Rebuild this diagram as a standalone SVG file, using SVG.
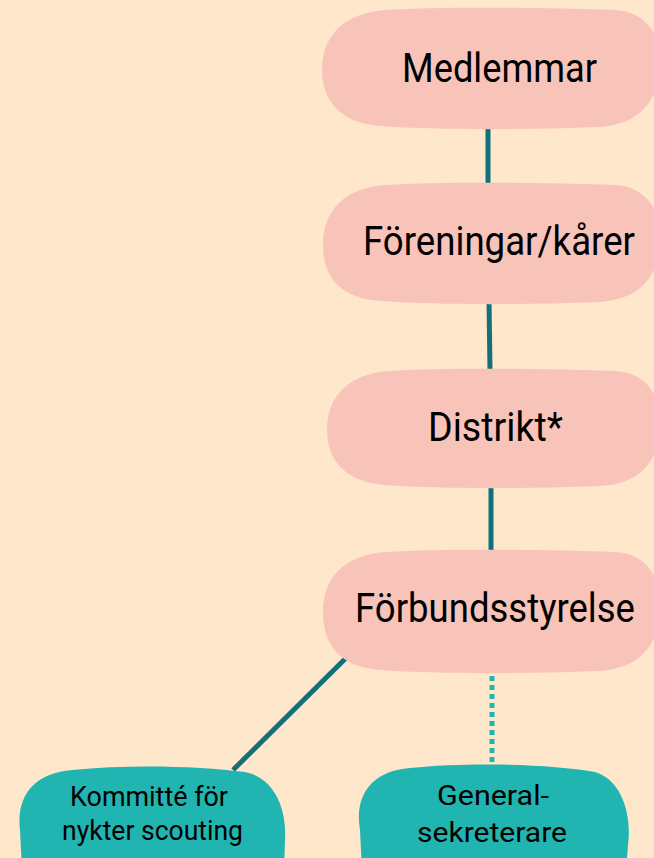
<svg xmlns="http://www.w3.org/2000/svg" width="654" height="858" viewBox="0 0 654 858">
<style>
.bg{fill:#FEE7CA}
.pink{fill:#F8C4BA}
.teal{fill:#21B5B2}
.big{font-family:Roboto,"Liberation Sans",sans-serif;font-size:40px;fill:#000;text-anchor:middle}
.small{font-family:Roboto,"Liberation Sans",sans-serif;font-size:27px;fill:#000;text-anchor:middle}
.ln{stroke:#13707A;stroke-width:5;fill:none}
.dot{stroke:#21B5B2;stroke-width:5;fill:none;stroke-dasharray:5 4}
</style>
<rect class="bg" x="0" y="0" width="654" height="858"/>
<g id="connectors">
<line class="ln" x1="488" y1="126" x2="488" y2="186"/>
<line class="ln" x1="489" y1="300" x2="490" y2="371"/>
<line class="ln" x1="491" y1="485" x2="491" y2="552"/>
<line class="ln" x1="348" y1="656" x2="233" y2="770"/>
<line class="dot" x1="492" y1="676" x2="492" y2="765"/>
</g>
<g id="medlemmar">
<path class="pink" d="M385 10 C450 6 560 8 615 10 C650 12 662 40 660 68 C658 100 640 124 600 127 C520 130 440 130 380 126 C340 123 322 100 322 70 C322 35 345 13 385 10 Z"/>
<text class="big" x="499.5" y="82" textLength="195" lengthAdjust="spacingAndGlyphs">Medlemmar</text>
</g>
<g id="foreningar">
<path class="pink" d="M385 185 C450 181 560 183 615 185 C650 187 662 215 660 243 C658 277 640 299 600 302 C520 305 440 305 380 301 C340 298 323 277 323 245 C323 210 345 188 385 185 Z"/>
<text class="big" x="499" y="255" textLength="272" lengthAdjust="spacingAndGlyphs">Föreningar/kårer</text>
</g>
<g id="distrikt">
<path class="pink" d="M388 371 C450 367 560 369 615 371 C650 373 662 400 660 428 C658 462 640 484 600 486 C520 489 445 489 385 485 C345 482 327 460 327 430 C327 396 349 374 388 371 Z"/>
<text class="big" x="495.5" y="441" textLength="135" lengthAdjust="spacingAndGlyphs">Distrikt*</text>
</g>
<g id="forbundsstyrelse">
<path class="pink" d="M385 552 C450 548 560 550 615 552 C650 554 662 582 660 610 C658 646 640 668 600 671 C520 674 440 674 380 670 C340 667 323 645 323 612 C323 577 345 555 385 552 Z"/>
<text class="big" x="495" y="622" textLength="280" lengthAdjust="spacingAndGlyphs">Förbundsstyrelse</text>
</g>
<g id="kommitte">
<path class="teal" d="M72 770 C130 764 200 766 245 772 C275 778 287 810 285 840 L284 870 L22 870 L20 830 C16 795 35 773 72 770 Z"/>
<text class="small" x="149" y="806" textLength="158" lengthAdjust="spacingAndGlyphs">Kommitté för</text>
<text class="small" x="152.5" y="840" textLength="181" lengthAdjust="spacingAndGlyphs">nykter scouting</text>
</g>
<g id="generalsekreterare">
<path class="teal" d="M410 768 C470 762 550 764 595 772 C622 780 632 815 628 845 L626 870 L362 870 L360 830 C354 795 372 771 410 768 Z"/>
<text class="small" x="493" y="805" textLength="112" lengthAdjust="spacingAndGlyphs">General-</text>
<text class="small" x="492" y="842" textLength="150" lengthAdjust="spacingAndGlyphs">sekreterare</text>
</g>
</svg>
